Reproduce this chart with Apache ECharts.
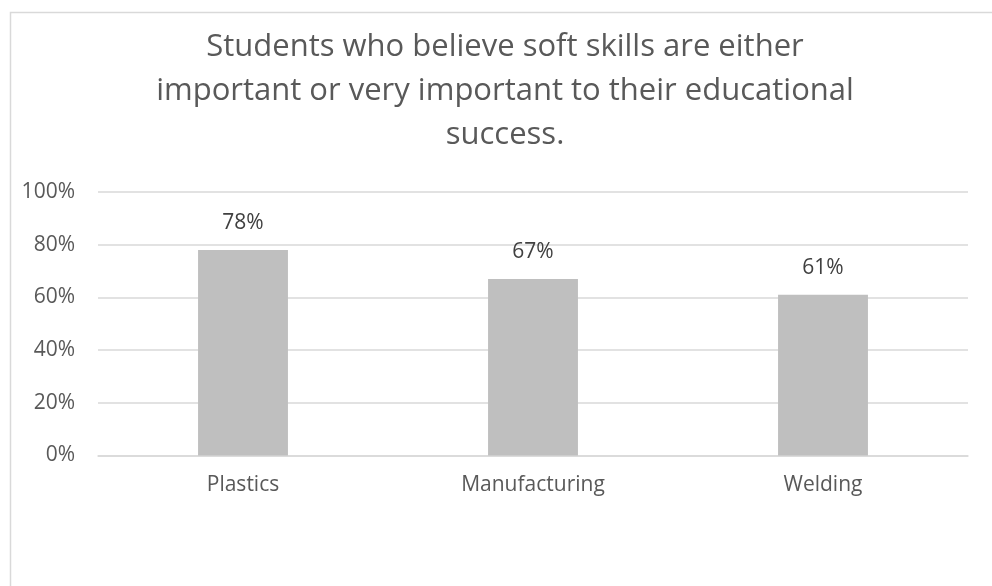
<!DOCTYPE html>
<html>
<head>
<meta charset="utf-8">
<script src="https://cdn.jsdelivr.net/npm/echarts@6/dist/echarts.min.js"></script>
<style>
  html, body { margin: 0; padding: 0; background: #ffffff; }
  #chart { width: 992px; height: 586px; }
</style>
</head>
<body>
<div id="chart"></div>
<script>
// Chart content
const titleText = 'Students who believe soft skills are either\nimportant or very important to their educational\nsuccess.';
const categories = ['Plastics', 'Manufacturing', 'Welding'];
const shareValues = [78, 67, 61];
const yTicks = { min: 0, max: 100, interval: 20 };

const textFont = '"Open Sans", "Noto Sans", sans-serif';

const chart = echarts.init(document.getElementById('chart'), null, { renderer: 'canvas' });

chart.setOption({
  backgroundColor: '#ffffff',
  animation: false,
  graphic: [{
    type: 'rect',
    silent: true,
    shape: { x: 10.5, y: 12.5, width: 1000, height: 600 },
    style: { fill: 'none', stroke: '#d9d9d9', lineWidth: 1.5 }
  }],
  title: {
    text: titleText,
    left: 500,
    textAlign: 'center',
    top: 20,
    textStyle: {
      fontFamily: textFont,
      fontSize: 31,
      fontWeight: 'normal',
      color: '#595959',
      lineHeight: 44
    }
  },
  grid: { left: 98, right: 24, top: 192, bottom: 130.5 },
  xAxis: {
    type: 'category',
    data: categories,
    axisLine: { show: true, lineStyle: { color: '#d9d9d9', width: 1.5 } },
    axisTick: { show: false },
    axisLabel: {
      margin: 19,
      fontFamily: textFont,
      fontSize: 21,
      color: '#595959'
    }
  },
  yAxis: {
    type: 'value',
    min: yTicks.min,
    max: yTicks.max,
    interval: yTicks.interval,
    axisLine: { show: false },
    axisTick: { show: false },
    splitLine: { lineStyle: { color: '#d9d9d9', width: 1.5 } },
    axisLabel: {
      margin: 23,
      fontFamily: textFont,
      fontSize: 21,
      color: '#595959',
      formatter: '{value}%'
    }
  },
  series: [{
    type: 'bar',
    data: shareValues,
    barWidth: '31%',
    itemStyle: { color: '#bfbfbf' },
    label: {
      show: true,
      position: 'top',
      distance: 16,
      fontFamily: textFont,
      fontSize: 21,
      color: '#404040',
      formatter: '{c}%'
    }
  }]
});
</script>
</body>
</html>
